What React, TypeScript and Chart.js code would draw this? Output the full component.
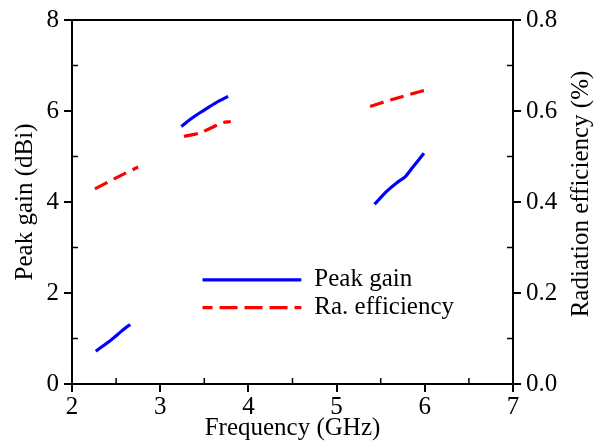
import React, { useEffect, useRef } from "react";
import { Chart, registerables } from "chart.js";

Chart.register(...registerables);

const gainFreq1 = [2.27, 2.45, 2.58, 2.66];
const gain1 = [0.72, 0.98, 1.19, 1.31];
const gainFreq2 = [3.24, 3.35, 3.49, 3.63, 3.77];
const gain2 = [5.66, 5.83, 6.01, 6.18, 6.32];
const gainFreq3 = [5.43, 5.57, 5.68, 5.78, 5.87, 5.99];
const gain3 = [3.95, 4.24, 4.42, 4.56, 4.78, 5.07];

const effFreq1 = [2.26, 2.5, 2.75];
const eff1 = [0.429, 0.453, 0.477];
const effFreq2 = [3.27, 3.45, 3.6, 3.7, 3.8];
const eff2 = [0.544, 0.552, 0.565, 0.574, 0.577];
const effFreq3 = [5.38, 5.64, 6.01];
const eff3 = [0.61, 0.626, 0.646];

const xTicks = [2, 3, 4, 5, 6, 7];
const gainTicks = [0, 2, 4, 6, 8];
const effTicks = [0, 0.2, 0.4, 0.6, 0.8];
const xMinorTicks = [2.5, 3.5, 4.5, 5.5, 6.5];
const gainMinorTicks = [1, 3, 5, 7];
const effMinorTicks = [0.1, 0.3, 0.5, 0.7];

const legendLabels = ["Peak gain", "Ra. efficiency"];
const rightTitle = "Radiation efficiency (%)";
const FONT = "'Liberation Serif', 'Times New Roman', Times, serif";
const FS = 25;

const pts = (xs: number[], ys: number[]) => xs.map((x, i) => ({ x, y: ys[i] }));

export default function App() {
  const ref = useRef<HTMLCanvasElement>(null);
  useEffect(() => {
    if (!ref.current) return;
    const blue = "#0000ff";
    const red = "#ff0000";
    const gainDs = (d: any) => ({
      data: d,
      yAxisID: "y",
      borderColor: blue,
      borderWidth: 3.2,
      pointRadius: 0,
      fill: false,
      tension: 0.3,
      borderCapStyle: "butt",
    });
    const effDs = (d: any) => ({
      data: d,
      yAxisID: "y1",
      borderColor: red,
      borderWidth: 3.2,
      borderDash: [14, 7],
      pointRadius: 0,
      fill: false,
      tension: 0.3,
    });
    const extras = {
      id: "extras",
      afterDraw(chart: any) {
        const { ctx, chartArea: a, scales } = chart;
        ctx.save();
        ctx.strokeStyle = "#000";
        ctx.lineWidth = 2;
        ctx.beginPath();
        ctx.moveTo(a.left - 1, a.top);
        ctx.lineTo(a.right + 1, a.top);
        ctx.stroke();
        ctx.lineWidth = 1.5;
        const L = 6;
        xMinorTicks.forEach((v) => {
          const px = scales.x.getPixelForValue(v);
          ctx.beginPath();
          ctx.moveTo(px, a.bottom);
          ctx.lineTo(px, a.bottom - L);
          ctx.stroke();
        });
        gainMinorTicks.forEach((v) => {
          const py = scales.y.getPixelForValue(v);
          ctx.beginPath();
          ctx.moveTo(a.left, py);
          ctx.lineTo(a.left + L, py);
          ctx.stroke();
        });
        effMinorTicks.forEach((v) => {
          const py = scales.y1.getPixelForValue(v);
          ctx.beginPath();
          ctx.moveTo(a.right, py);
          ctx.lineTo(a.right - L, py);
          ctx.stroke();
        });
        // legend
        const lx0 = scales.x.getPixelForValue(3.48);
        const lx1 = scales.x.getPixelForValue(4.6);
        const ly0 = scales.y.getPixelForValue(2.29);
        const ly1 = scales.y.getPixelForValue(1.68);
        ctx.lineWidth = 3.2;
        ctx.strokeStyle = blue;
        ctx.beginPath();
        ctx.moveTo(lx0, ly0);
        ctx.lineTo(lx1, ly0);
        ctx.stroke();
        ctx.strokeStyle = red;
        ctx.setLineDash([18, 7]);
        ctx.lineDashOffset = 8;
        ctx.beginPath();
        ctx.moveTo(lx0, ly1);
        ctx.lineTo(lx1, ly1);
        ctx.stroke();
        ctx.setLineDash([]);
        ctx.fillStyle = "#000";
        ctx.font = `${FS}px ${FONT}`;
        ctx.textBaseline = "middle";
        ctx.textAlign = "left";
        ctx.fillText(legendLabels[0], lx1 + 13, ly0);
        ctx.fillText(legendLabels[1], lx1 + 13, ly1);
        // right axis title, reading bottom to top
        ctx.translate(581, (a.top + a.bottom) / 2 - 8);
        ctx.rotate(-Math.PI / 2);
        ctx.textAlign = "center";
        ctx.fillText(rightTitle, 0, 0);
        ctx.restore();
      },
    };
    const tickFont = { family: FONT, size: FS };
    const chart = new Chart(ref.current, {
      type: "line",
      data: {
        datasets: [
          gainDs(pts(gainFreq1, gain1)),
          gainDs(pts(gainFreq2, gain2)),
          gainDs(pts(gainFreq3, gain3)),
          effDs(pts(effFreq1, eff1)),
          effDs(pts(effFreq2, eff2)),
          effDs(pts(effFreq3, eff3)),
        ] as any,
      },
      options: {
        animation: false,
        responsive: false,
        layout: { padding: { top: 19, left: 0, right: 0, bottom: 0 } },
        plugins: { legend: { display: false }, tooltip: { enabled: false } },
        scales: {
          x: {
            type: "linear",
            min: 2,
            max: 7,
            afterBuildTicks: (s: any) => {
              s.ticks = xTicks.map((v) => ({ value: v }));
            },
            afterFit: (s: any) => {
              s.height = 63;
            },
            ticks: { color: "#000", font: tickFont, padding: 0 },
            grid: { drawOnChartArea: false, tickLength: 8, color: "#000", lineWidth: 2 },
            border: { color: "#000", width: 2 },
            title: { display: true, text: "Frequency (GHz)", color: "#000", font: tickFont, padding: { top: -6 } },
          },
          y: {
            position: "left",
            min: 0,
            max: 8,
            afterBuildTicks: (s: any) => {
              s.ticks = gainTicks.map((v) => ({ value: v }));
            },
            afterFit: (s: any) => {
              s.width = 72;
            },
            ticks: { color: "#000", font: tickFont, padding: 5 },
            grid: { drawOnChartArea: false, tickLength: 8, color: "#000", lineWidth: 2 },
            border: { color: "#000", width: 2 },
            title: { display: true, text: "Peak gain (dBi)", color: "#000", font: tickFont, padding: { top: 10, bottom: 0 } },
          },
          y1: {
            position: "right",
            min: 0,
            max: 0.8,
            afterBuildTicks: (s: any) => {
              s.ticks = effTicks.map((v) => ({ value: v }));
            },
            afterFit: (s: any) => {
              s.width = 90;
            },
            ticks: { color: "#000", font: tickFont, padding: 5, callback: (v: any) => Number(v).toFixed(1) },
            grid: { drawOnChartArea: false, tickLength: 8, color: "#000", lineWidth: 2 },
            border: { color: "#000", width: 2 },
            title: { display: false },
          },
        },
      } as any,
      plugins: [extras],
    });
    const fonts: any = (document as any).fonts;
    if (fonts && fonts.load) {
      fonts.load(`${FS}px 'Liberation Serif'`).then(() => {
        try { chart.update(); } catch (e) {}
      });
    }
    return () => chart.destroy();
  }, []);
  return (
    <div style={{ position: "fixed", left: 0, top: 0, width: 603, height: 447, background: "#fff" }}>
      <canvas ref={ref} width={603} height={447} style={{ width: 603, height: 447 }} />
    </div>
  );
}
